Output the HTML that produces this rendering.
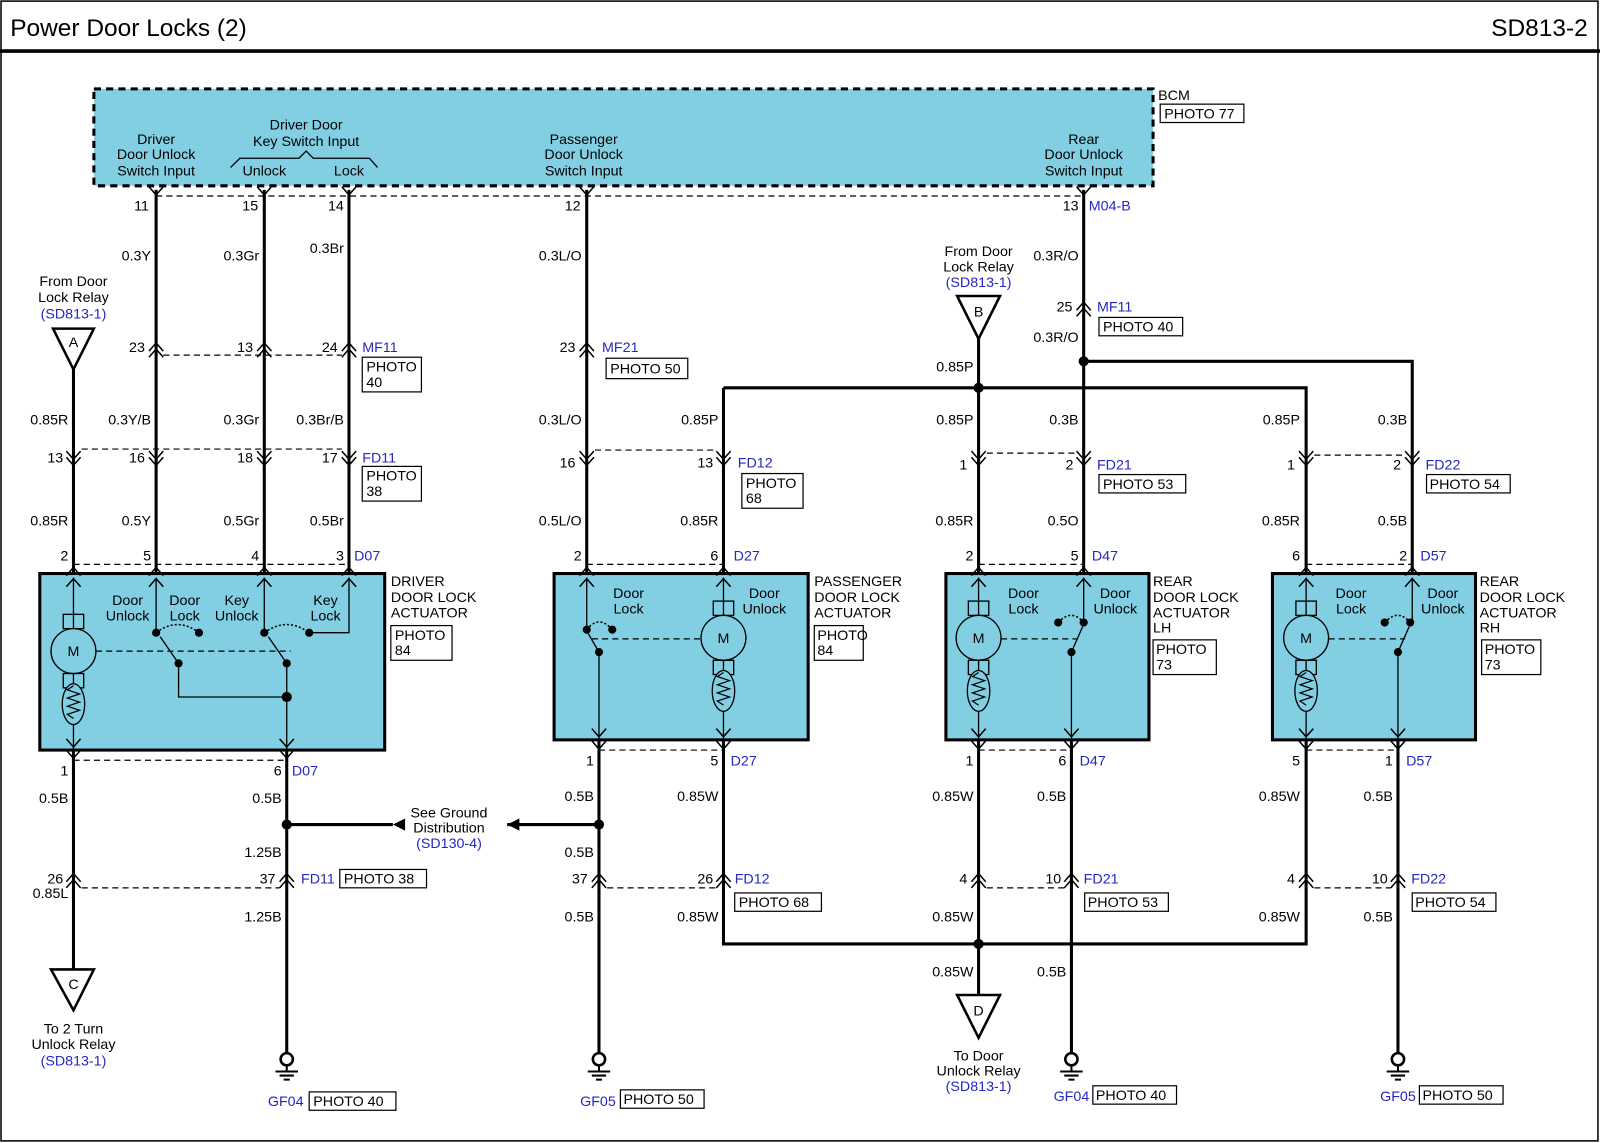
<!DOCTYPE html>
<html><head><meta charset="utf-8"><style>
html,body{margin:0;padding:0;background:#fff}
svg{display:block}
text{font-family:"Liberation Sans",Arial,sans-serif;font-size:14px;fill:#000}
.b{fill:#2626c0}
.r{text-anchor:end}
.m{text-anchor:middle}
.w{stroke:#000;stroke-width:3;fill:none}
.th{stroke:#000;stroke-width:1.3;fill:none}
.d{stroke:#000;stroke-width:1.2;stroke-dasharray:6 4;fill:none}
.bx{fill:#fff;stroke:#000;stroke-width:1.2}
.act{fill:#82cfe3;stroke:#000;stroke-width:3}
</style></head><body>
<svg width="1600" height="1143" viewBox="0 0 1568 1120" xmlns="http://www.w3.org/2000/svg">
<defs>
<g id="cu"><path d="M-7,4 L0,-4 L7,4 M-7,10 L0,2 L7,10" stroke="#000" stroke-width="1.5" fill="none"/></g>
<g id="cd"><path d="M-7,-4 L0,4 L7,-4 M-7,-10 L0,-2 L7,-10" stroke="#000" stroke-width="1.5" fill="none"/></g>
<g id="pv"><path d="M-7,-5 L0,3 L7,-5" stroke="#000" stroke-width="1.5" fill="none"/></g>
<g id="pu"><path d="M-7,5 L0,-3 L7,5" stroke="#000" stroke-width="1.5" fill="none"/></g>
<g id="gnd"><circle cx="0" cy="0" r="6" fill="none" stroke="#000" stroke-width="2.5"/><path d="M0,6 V12 M-11,12 H11 M-7,16 H7 M-3,20 H3" stroke="#000" stroke-width="2" fill="none"/></g>
<g id="mot"><rect x="-10" y="-36" width="20" height="14" fill="none" stroke="#000" stroke-width="1.3"/><circle cx="0" cy="0" r="22" fill="#82cfe3" stroke="#000" stroke-width="1.3"/><rect x="-10" y="22" width="20" height="14" fill="none" stroke="#000" stroke-width="1.3"/><text x="0" y="5" class="m">M</text>
<ellipse cx="0" cy="52" rx="11" ry="20" fill="#82cfe3" stroke="#000" stroke-width="1.3"/><path d="M0,34 L-6,38 L6,42 L-6,46 L6,50 L-6,54 L6,58 L-6,62 L0,66" stroke="#000" stroke-width="1.2" fill="none"/></g>
</defs>

<rect x="1" y="1" width="1565" height="1117" fill="none" stroke="#000" stroke-width="1.5"/>
<text x="10" y="35" style="font-size:24px">Power Door Locks (2)</text>
<text x="1556" y="35" class="r" style="font-size:24px">SD813-2</text>
<line x1="0" y1="50" x2="1568" y2="50" stroke="#000" stroke-width="3.5"/>

<!-- BCM -->
<rect x="92" y="87" width="1038" height="95" fill="#82cfe3" stroke="#000" stroke-width="3" stroke-dasharray="7 5"/>
<text x="1135" y="98">BCM</text>
<rect x="1137" y="102" width="82" height="18" class="bx"/><text x="1141" y="116">PHOTO 77</text>
<text x="153" y="141" class="m">Driver</text><text x="153" y="156" class="m">Door Unlock</text><text x="153" y="172" class="m">Switch Input</text>
<text x="300" y="127" class="m">Driver Door</text><text x="300" y="143" class="m">Key Switch Input</text>
<path d="M226,164 L235,155 L293,155 L300,148 L307,155 L362,155 L370,164" class="th"/>
<text x="259" y="172" class="m">Unlock</text><text x="342" y="172" class="m">Lock</text>
<text x="572" y="141" class="m">Passenger</text><text x="572" y="156" class="m">Door Unlock</text><text x="572" y="172" class="m">Switch Input</text>
<text x="1062" y="141" class="m">Rear</text><text x="1062" y="156" class="m">Door Unlock</text><text x="1062" y="172" class="m">Switch Input</text>
<path d="M153,192 H1062" class="d"/>
<use href="#pv" x="153" y="188"/><use href="#pv" x="259" y="188"/><use href="#pv" x="342" y="188"/><use href="#pv" x="575" y="188"/><use href="#pv" x="1062" y="188"/>
<text x="146" y="206" class="r">11</text><text x="253" y="206" class="r">15</text><text x="337" y="206" class="r">14</text><text x="569" y="206" class="r">12</text><text x="1057" y="206" class="r">13</text><text x="1067" y="206" class="b">M04-B</text>

<!-- Driver wires -->
<path d="M153,186 V562 M259,186 V562 M342,186 V562 M72,362 V562" class="w"/>
<text x="148" y="255" class="r">0.3Y</text><text x="254" y="255" class="r">0.3Gr</text><text x="337" y="248" class="r">0.3Br</text>
<text x="72" y="280" class="m">From Door</text><text x="72" y="296" class="m">Lock Relay</text><text x="72" y="312" class="m b">(SD813-1)</text>
<path d="M52,322 H92 L72,362 Z" fill="#fff" stroke="#000" stroke-width="2.5"/><text x="72" y="340" class="m">A</text>
<use href="#cu" x="153" y="340"/><use href="#cu" x="259" y="340"/><use href="#cu" x="342" y="340"/>
<path d="M160,348 H335" class="d"/>
<text x="142" y="345" class="r">23</text><text x="248" y="345" class="r">13</text><text x="331" y="345" class="r">24</text><text x="355" y="345" class="b">MF11</text>
<rect x="355" y="350" width="58" height="34" class="bx"/><text x="359" y="364">PHOTO</text><text x="359" y="379">40</text>
<text x="67" y="416" class="r">0.85R</text><text x="148" y="416" class="r">0.3Y/B</text><text x="254" y="416" class="r">0.3Gr</text><text x="337" y="416" class="r">0.3Br/B</text>
<use href="#cd" x="72" y="452"/><use href="#cd" x="153" y="452"/><use href="#cd" x="259" y="452"/><use href="#cd" x="342" y="452"/>
<path d="M80,440 H335" class="d"/>
<text x="62" y="453" class="r">13</text><text x="142" y="453" class="r">16</text><text x="248" y="453" class="r">18</text><text x="331" y="453" class="r">17</text><text x="355" y="453" class="b">FD11</text>
<rect x="355" y="457" width="58" height="34" class="bx"/><text x="359" y="471">PHOTO</text><text x="359" y="486">38</text>
<text x="67" y="515" class="r">0.85R</text><text x="148" y="515" class="r">0.5Y</text><text x="254" y="515" class="r">0.5Gr</text><text x="337" y="515" class="r">0.5Br</text>
<text x="67" y="549" class="r">2</text><text x="148" y="549" class="r">5</text><text x="254" y="549" class="r">4</text><text x="337" y="549" class="r">3</text><text x="347" y="549" class="b">D07</text>
<path d="M72,553 H342" class="d"/>

<!-- Driver actuator -->
<rect x="39" y="562" width="338" height="173" class="act"/>
<use href="#pu" x="72" y="559"/><use href="#pu" x="153" y="559"/><use href="#pu" x="259" y="559"/><use href="#pu" x="342" y="559"/>
<use href="#pu" x="72" y="570"/><use href="#pu" x="153" y="570"/><use href="#pu" x="259" y="570"/><use href="#pu" x="342" y="570"/>
<path d="M72,566 V735 M153,566 V620 M259,566 V620 M342,566 V620 H303 M175,650 V683 H281 M281,650 V735" class="th"/>
<use href="#mot" x="72" y="638"/>
<path d="M94,638 H285" class="d"/>
<path d="M175,650 L157,624 M281,650 L263,624" class="th"/>
<path d="M153,620 Q174,604 195,620 M259,620 Q281,604 303,620" stroke="#000" stroke-width="1.5" stroke-dasharray="2 2" fill="none"/>
<g fill="#000"><circle cx="153" cy="620" r="4"/><circle cx="195" cy="620" r="4"/><circle cx="259" cy="620" r="4"/><circle cx="303" cy="620" r="4"/><circle cx="175" cy="650" r="4"/><circle cx="281" cy="650" r="4"/><circle cx="281" cy="683" r="5"/></g>
<text x="125" y="593" class="m">Door</text><text x="125" y="608" class="m">Unlock</text>
<text x="181" y="593" class="m">Door</text><text x="181" y="608" class="m">Lock</text>
<text x="232" y="593" class="m">Key</text><text x="232" y="608" class="m">Unlock</text>
<text x="319" y="593" class="m">Key</text><text x="319" y="608" class="m">Lock</text>
<text x="383" y="574">DRIVER</text><text x="383" y="590">DOOR LOCK</text><text x="383" y="605">ACTUATOR</text>
<rect x="383" y="613" width="60" height="34" class="bx"/><text x="387" y="627">PHOTO</text><text x="387" y="642">84</text>
<use href="#pv" x="72" y="729"/><use href="#pv" x="281" y="729"/><use href="#pv" x="72" y="740"/><use href="#pv" x="281" y="740"/>
<path d="M72,745 H281" class="d"/>
<text x="67" y="760" class="r">1</text><text x="276" y="760" class="r">6</text><text x="286" y="760" class="b">D07</text>
<path d="M72,735 V950 M281,735 V1032 M281,808 H385 M497,808 H587" class="w"/>
<circle cx="281" cy="808" r="5"/>
<path d="M385,808 L397,802 V814 Z M497,808 L509,802 V814 Z"/>
<text x="440" y="801" class="m">See Ground</text><text x="440" y="816" class="m">Distribution</text><text x="440" y="831" class="m b">(SD130-4)</text>
<text x="67" y="787" class="r">0.5B</text><text x="276" y="787" class="r">0.5B</text>
<text x="276" y="840" class="r">1.25B</text>
<use href="#cu" x="72" y="860"/><use href="#cu" x="281" y="860"/>
<path d="M80,870 H274" class="d"/>
<text x="62" y="866" class="r">26</text><text x="270" y="866" class="r">37</text><text x="295" y="866" class="b">FD11</text>
<rect x="333" y="852" width="85" height="18" class="bx"/><text x="337" y="866">PHOTO 38</text>
<text x="67" y="880" class="r">0.85L</text><text x="276" y="903" class="r">1.25B</text>
<path d="M50,950 H92 L72,990 Z" fill="#fff" stroke="#000" stroke-width="2.5"/><text x="72" y="969" class="m">C</text>
<text x="72" y="1013" class="m">To 2 Turn</text><text x="72" y="1028" class="m">Unlock Relay</text><text x="72" y="1044" class="m b">(SD813-1)</text>
<use href="#gnd" x="281" y="1038"/>
<text x="280" y="1084" class="m b">GF04</text><rect x="303" y="1070" width="85" height="18" class="bx"/><text x="307" y="1084">PHOTO 40</text>

<!-- Passenger -->
<path d="M575,186 V562 M709,380 V562 M709,380 H1280 V562 M959,332 V562 M1062,186 V562 M1062,354 H1384 V562" class="w"/>
<text x="570" y="255" class="r">0.3L/O</text>
<use href="#cu" x="575" y="340"/>
<text x="564" y="345" class="r">23</text><text x="590" y="345" class="b">MF21</text>
<rect x="594" y="351" width="80" height="20" class="bx"/><text x="598" y="366">PHOTO 50</text>
<text x="570" y="416" class="r">0.3L/O</text><text x="704" y="416" class="r">0.85P</text>
<use href="#cd" x="575" y="452"/><use href="#cd" x="709" y="452"/>
<path d="M583,441 H702" class="d"/>
<text x="564" y="458" class="r">16</text><text x="699" y="458" class="r">13</text><text x="723" y="458" class="b">FD12</text>
<rect x="727" y="464" width="60" height="34" class="bx"/><text x="731" y="478">PHOTO</text><text x="731" y="493">68</text>
<text x="570" y="515" class="r">0.5L/O</text><text x="704" y="515" class="r">0.85R</text>
<text x="570" y="549" class="r">2</text><text x="704" y="549" class="r">6</text><text x="719" y="549" class="b">D27</text>
<path d="M575,553 H709" class="d"/>
<rect x="543" y="562" width="249" height="163" class="act"/>
<use href="#pu" x="575" y="559"/><use href="#pu" x="709" y="559"/><use href="#pu" x="575" y="570"/><use href="#pu" x="709" y="570"/>
<path d="M575,566 V617 M587,639 V725 M709,566 V725" class="th"/>
<use href="#mot" x="709" y="625"/>
<path d="M580,626 H687" class="d"/>
<path d="M587,639 L576,620" class="th"/>
<path d="M575,617 Q587,602 600,617" stroke="#000" stroke-width="1.5" stroke-dasharray="2 2" fill="none"/>
<g fill="#000"><circle cx="575" cy="617" r="4"/><circle cx="600" cy="617" r="4"/><circle cx="587" cy="639" r="4"/></g>
<text x="616" y="586" class="m">Door</text><text x="616" y="601" class="m">Lock</text>
<text x="749" y="586" class="m">Door</text><text x="749" y="601" class="m">Unlock</text>
<use href="#pv" x="587" y="719"/><use href="#pv" x="709" y="719"/>
<text x="798" y="574">PASSENGER</text><text x="798" y="590">DOOR LOCK</text><text x="798" y="605">ACTUATOR</text>
<rect x="798" y="613" width="48" height="34" class="bx"/><text x="801" y="627">PHOTO</text><text x="801" y="642">84</text>
<use href="#pv" x="587" y="731"/><use href="#pv" x="709" y="731"/>
<path d="M587,735 H709" class="d"/>
<text x="582" y="750" class="r">1</text><text x="704" y="750" class="r">5</text><text x="716" y="750" class="b">D27</text>
<path d="M587,725 V1032 M709,725 V925 H1280 V725" class="w"/>
<circle cx="587" cy="808" r="5"/>
<text x="582" y="785" class="r">0.5B</text><text x="704" y="785" class="r">0.85W</text>
<text x="582" y="840" class="r">0.5B</text>
<use href="#cu" x="587" y="860"/><use href="#cu" x="709" y="860"/>
<path d="M595,870 H702" class="d"/>
<text x="576" y="866" class="r">37</text><text x="699" y="866" class="r">26</text><text x="720" y="866" class="b">FD12</text>
<rect x="720" y="875" width="85" height="18" class="bx"/><text x="724" y="889">PHOTO 68</text>
<text x="582" y="903" class="r">0.5B</text><text x="704" y="903" class="r">0.85W</text>
<use href="#gnd" x="587" y="1038"/>
<text x="586" y="1084" class="m b">GF05</text><rect x="608" y="1068" width="82" height="18" class="bx"/><text x="611" y="1082">PHOTO 50</text>

<!-- Rear LH -->
<text x="959" y="251" class="m">From Door</text><text x="959" y="266" class="m">Lock Relay</text><text x="959" y="281" class="m b">(SD813-1)</text>
<path d="M938,290 H980 L959,332 Z" fill="#fff" stroke="#000" stroke-width="2.5"/><text x="959" y="310" class="m">B</text>
<text x="954" y="364" class="r">0.85P</text>
<circle cx="959" cy="380" r="5"/><circle cx="1062" cy="354" r="5"/>
<text x="1057" y="255" class="r">0.3R/O</text>
<use href="#cu" x="1062" y="300"/>
<text x="1051" y="305" class="r">25</text><text x="1075" y="305" class="b">MF11</text>
<rect x="1077" y="311" width="82" height="18" class="bx"/><text x="1081" y="325">PHOTO 40</text>
<text x="1057" y="335" class="r">0.3R/O</text>
<text x="954" y="416" class="r">0.85P</text><text x="1057" y="416" class="r">0.3B</text>
<text x="1274" y="416" class="r">0.85P</text><text x="1379" y="416" class="r">0.3B</text>
<use href="#cd" x="959" y="452"/><use href="#cd" x="1062" y="452"/><use href="#cd" x="1280" y="452"/><use href="#cd" x="1384" y="452"/>
<path d="M967,444 H1055 M1288,446 H1377" class="d"/>
<text x="948" y="460" class="r">1</text><text x="1052" y="460" class="r">2</text><text x="1075" y="460" class="b">FD21</text>
<rect x="1077" y="465" width="85" height="18" class="bx"/><text x="1081" y="479">PHOTO 53</text>
<text x="1269" y="460" class="r">1</text><text x="1373" y="460" class="r">2</text><text x="1397" y="460" class="b">FD22</text>
<rect x="1398" y="465" width="82" height="18" class="bx"/><text x="1401" y="479">PHOTO 54</text>
<text x="954" y="515" class="r">0.85R</text><text x="1057" y="515" class="r">0.5O</text>
<text x="1274" y="515" class="r">0.85R</text><text x="1379" y="515" class="r">0.5B</text>
<text x="954" y="549" class="r">2</text><text x="1057" y="549" class="r">5</text><text x="1070" y="549" class="b">D47</text>
<text x="1274" y="549" class="r">6</text><text x="1379" y="549" class="r">2</text><text x="1392" y="549" class="b">D57</text>
<path d="M959,553 H1062 M1280,553 H1384" class="d"/>

<rect x="927" y="562" width="199" height="163" class="act"/>
<rect x="1247" y="562" width="199" height="163" class="act"/>
<use href="#pu" x="959" y="559"/><use href="#pu" x="1062" y="559"/><use href="#pu" x="959" y="570"/><use href="#pu" x="1062" y="570"/>
<use href="#pu" x="1280" y="559"/><use href="#pu" x="1384" y="559"/><use href="#pu" x="1280" y="570"/><use href="#pu" x="1384" y="570"/>
<path d="M959,566 V725 M1062,566 V610 M1050,639 V725 M1280,566 V725 M1384,566 V610 M1370,639 V725" class="th"/>
<use href="#mot" x="959" y="625"/><use href="#mot" x="1280" y="625"/>
<path d="M981,626 H1055 M1302,626 H1377" class="d"/>
<path d="M1050,639 L1061,614 M1370,639 L1381,614" class="th"/>
<path d="M1037,610 Q1050,596 1062,610 M1357,610 Q1370,596 1382,610" stroke="#000" stroke-width="1.5" stroke-dasharray="2 2" fill="none"/>
<g fill="#000"><circle cx="1037" cy="610" r="4"/><circle cx="1062" cy="610" r="4"/><circle cx="1050" cy="639" r="4"/><circle cx="1357" cy="610" r="4"/><circle cx="1382" cy="610" r="4"/><circle cx="1370" cy="639" r="4"/></g>
<text x="1003" y="586" class="m">Door</text><text x="1003" y="601" class="m">Lock</text>
<text x="1093" y="586" class="m">Door</text><text x="1093" y="601" class="m">Unlock</text>
<text x="1324" y="586" class="m">Door</text><text x="1324" y="601" class="m">Lock</text>
<text x="1414" y="586" class="m">Door</text><text x="1414" y="601" class="m">Unlock</text>
<use href="#pv" x="959" y="719"/><use href="#pv" x="1050" y="719"/><use href="#pv" x="1280" y="719"/><use href="#pv" x="1370" y="719"/>
<text x="1130" y="574">REAR</text><text x="1130" y="590">DOOR LOCK</text><text x="1130" y="605">ACTUATOR</text><text x="1130" y="620">LH</text>
<rect x="1130" y="627" width="62" height="34" class="bx"/><text x="1133" y="641">PHOTO</text><text x="1133" y="656">73</text>
<text x="1450" y="574">REAR</text><text x="1450" y="590">DOOR LOCK</text><text x="1450" y="605">ACTUATOR</text><text x="1450" y="620">RH</text>
<rect x="1452" y="627" width="58" height="34" class="bx"/><text x="1455" y="641">PHOTO</text><text x="1455" y="656">73</text>

<use href="#pv" x="959" y="731"/><use href="#pv" x="1050" y="731"/><use href="#pv" x="1280" y="731"/><use href="#pv" x="1370" y="731"/>
<path d="M959,735 H1050 M1280,735 H1370" class="d"/>
<text x="954" y="750" class="r">1</text><text x="1045" y="750" class="r">6</text><text x="1058" y="750" class="b">D47</text>
<text x="1274" y="750" class="r">5</text><text x="1365" y="750" class="r">1</text><text x="1378" y="750" class="b">D57</text>
<path d="M959,725 V975 M1050,725 V1032 M1370,725 V1032" class="w"/>
<circle cx="959" cy="925" r="5"/>
<text x="954" y="785" class="r">0.85W</text><text x="1045" y="785" class="r">0.5B</text>
<text x="1274" y="785" class="r">0.85W</text><text x="1365" y="785" class="r">0.5B</text>
<use href="#cu" x="959" y="860"/><use href="#cu" x="1050" y="860"/><use href="#cu" x="1280" y="860"/><use href="#cu" x="1370" y="860"/>
<path d="M967,870 H1043 M1288,870 H1363" class="d"/>
<text x="948" y="866" class="r">4</text><text x="1040" y="866" class="r">10</text><text x="1062" y="866" class="b">FD21</text>
<rect x="1063" y="875" width="82" height="18" class="bx"/><text x="1066" y="889">PHOTO 53</text>
<text x="1269" y="866" class="r">4</text><text x="1360" y="866" class="r">10</text><text x="1383" y="866" class="b">FD22</text>
<rect x="1384" y="875" width="82" height="18" class="bx"/><text x="1387" y="889">PHOTO 54</text>
<text x="954" y="903" class="r">0.85W</text><text x="1274" y="903" class="r">0.85W</text><text x="1365" y="903" class="r">0.5B</text>
<text x="954" y="957" class="r">0.85W</text><text x="1045" y="957" class="r">0.5B</text>
<path d="M938,975 H980 L959,1017 Z" fill="#fff" stroke="#000" stroke-width="2.5"/><text x="959" y="995" class="m">D</text>
<text x="959" y="1039" class="m">To Door</text><text x="959" y="1054" class="m">Unlock Relay</text><text x="959" y="1069" class="m b">(SD813-1)</text>
<use href="#gnd" x="1050" y="1038"/><use href="#gnd" x="1370" y="1038"/>
<text x="1050" y="1079" class="m b">GF04</text><rect x="1071" y="1064" width="82" height="18" class="bx"/><text x="1074" y="1078">PHOTO 40</text>
<text x="1370" y="1079" class="m b">GF05</text><rect x="1391" y="1064" width="82" height="18" class="bx"/><text x="1394" y="1078">PHOTO 50</text>
</svg>
</body></html>
